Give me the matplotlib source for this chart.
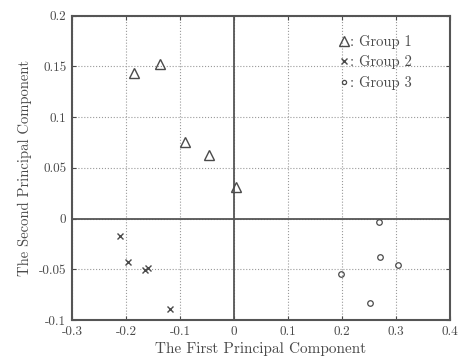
import matplotlib

matplotlib.use("Agg")

import matplotlib.pyplot as plt

plt.rcParams["font.family"] = "serif"
plt.rcParams["font.serif"] = ["cmr10", "DejaVu Serif"]
plt.rcParams["axes.unicode_minus"] = False
plt.rcParams["mathtext.fontset"] = "cm"

# Principal component scores.
g1_x = [-0.185, -0.137, -0.090, -0.047, 0.004]
g1_y = [0.143, 0.152, 0.075, 0.063, 0.031]
g2_x = [-0.212, -0.196, -0.165, -0.160, -0.119]
g2_y = [-0.017, -0.043, -0.051, -0.049, -0.089]
g3_x = [0.269, 0.271, 0.304, 0.199, 0.252]
g3_y = [-0.003, -0.038, -0.046, -0.055, -0.083]

xticks = [-0.3, -0.2, -0.1, 0, 0.1, 0.2, 0.3, 0.4]
yticks = [-0.1, -0.05, 0, 0.05, 0.1, 0.15, 0.2]
xlabels = ["-0.3", "-0.2", "-0.1", "0", "0.1", "0.2", "0.3", "0.4"]
ylabels = ["-0.1", "-0.05", "0", "0.05", "0.1", "0.15", "0.2"]

ink = "#4a4a4a"

fig = plt.figure(figsize=(4.6, 3.61), dpi=100)
ax = fig.add_axes([72 / 460, 1 - 320 / 361, 378 / 460, 304.5 / 361])

ax.grid(True, linestyle=":", color="#9a9a9a", linewidth=0.8)
ax.axhline(0, color="#555555", linewidth=1.3, zorder=2)
ax.axvline(0, color="#555555", linewidth=1.3, zorder=2)

ax.plot(g1_x, g1_y, "^", markersize=7, markerfacecolor="none", markeredgecolor=ink,
        markeredgewidth=1.0, label=": Group 1", zorder=3)
ax.plot(g2_x, g2_y, "x", markersize=5, color=ink, markeredgewidth=1.0, label=": Group 2", zorder=3)
ax.plot(g3_x, g3_y, "o", markersize=4, markerfacecolor="none", markeredgecolor=ink,
        markeredgewidth=0.9, label=": Group 3", zorder=3)

ax.set_xlim(-0.3, 0.4)
ax.set_ylim(-0.1, 0.2)
ax.set_xticks(xticks)
ax.set_xticklabels(xlabels)
ax.set_yticks(yticks)
ax.set_yticklabels(ylabels)
ax.tick_params(direction="in", top=True, right=True, labelsize=9.5, colors=ink, length=3, pad=4)
for s in ax.spines.values():
    s.set_linewidth(1.5)
    s.set_color("#555555")

ax.set_xlabel("The First Principal Component", fontsize=11, color=ink, labelpad=3)
ax.set_ylabel("The Second Principal Component", fontsize=10.5, color=ink, labelpad=5)

leg = ax.legend(loc="upper right", bbox_to_anchor=(0.90, 0.937), frameon=False, fontsize=10.5,
                handlelength=0.7, handletextpad=0.1, labelspacing=0.45, borderpad=0, borderaxespad=0)
for t in leg.get_texts():
    t.set_color(ink)
for h, ms in zip(leg.legend_handles, [7, 5, 3]):
    h.set_markersize(ms)

fig.savefig("out.png", dpi=100, facecolor="white")
